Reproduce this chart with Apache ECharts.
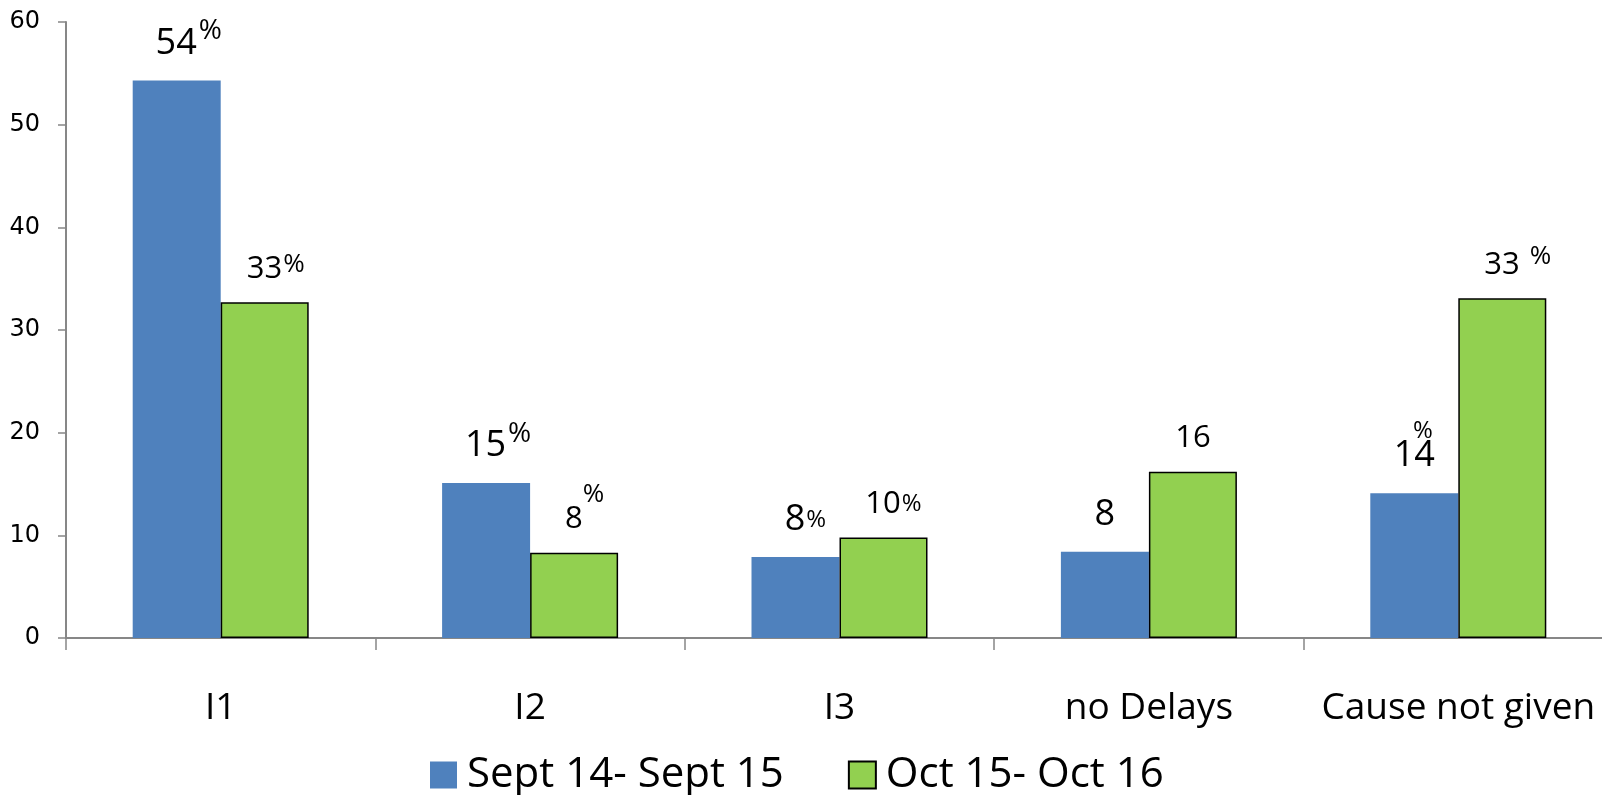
<!DOCTYPE html>
<html>
<head>
<meta charset="utf-8">
<script src="https://cdn.jsdelivr.net/npm/echarts@6/dist/echarts.min.js"></script>
<style>
  html, body { margin: 0; padding: 0; background: #fff; }
  #chart { width: 1602px; height: 795px; }
</style>
</head>
<body>
<div id="chart"></div>
<script>
// ---- data ----
const categories = ['I1', 'I2', 'I3', 'no Delays', 'Cause not given'];
const seriesNames = ['Sept 14- Sept 15', 'Oct 15- Oct 16'];
const septValues = [54.3, 15.1, 7.9, 8.4, 14.1];
const octValues = [32.7, 8.3, 9.8, 16.2, 33.1];
const septLabels = ['54%', '15%', '8%', '8', '14%'];
const octLabels = ['33%', '8%', '10%', '16', '33%'];
const yMin = 0, yMax = 60, yStep = 10;

// ---- label layout (style only) ----
const septKinds = ['sup', 'sup', 'inline', 'plain', 'above'];
const octKinds = ['supLo', 'supHi', 'inline', 'plain', 'supGap'];

const FONT = "'Open Sans', 'Noto Sans', sans-serif";

function richFor(F) {
  const base = { fontFamily: FONT, color: '#000' };
  return {
    n: Object.assign({ fontSize: F, lineHeight: F, verticalAlign: 'bottom' }, base),
    sup: Object.assign({ fontSize: 28, lineHeight: 44, verticalAlign: 'top', padding: [0, 0, 0, 2] }, base),
    padSup: { width: 24, fontSize: 10, lineHeight: 10, verticalAlign: 'bottom' },
    supLo: Object.assign({ fontSize: 26, lineHeight: 33, verticalAlign: 'top', padding: [0, 0, 0, 1] }, base),
    padLo: { width: 22, fontSize: 10, lineHeight: 10, verticalAlign: 'bottom' },
    supHi: Object.assign({ fontSize: 26, lineHeight: 53, verticalAlign: 'top', padding: [0, 0, 0, 0] }, base),
    padHi: { width: 21, fontSize: 10, lineHeight: 10, verticalAlign: 'bottom' },
    supGap: Object.assign({ fontSize: 26, lineHeight: 37, verticalAlign: 'top', padding: [0, 0, 0, 10] }, base),
    padGap: { width: 31, fontSize: 10, lineHeight: 10, verticalAlign: 'bottom' },
    inl: Object.assign({ fontSize: 24, lineHeight: F, verticalAlign: 'middle', padding: [0, 0, 0, 1] }, base),
    padInl: { width: 20, fontSize: 10, lineHeight: 10, verticalAlign: 'bottom' },
    above: Object.assign({ fontSize: 24, lineHeight: 14, verticalAlign: 'middle', padding: [0, 0, 0, 17] }, base)
  };
}

function makeFormatter(labels, kinds) {
  return function (p) {
    const txt = labels[p.dataIndex];
    const num = txt.replace('%', '');
    switch (kinds[p.dataIndex]) {
      case 'sup': return '{padSup| }{n|' + num + '}{sup|%}';
      case 'supLo': return '{padLo| }{n|' + num + '}{supLo|%}';
      case 'supHi': return '{padHi| }{n|' + num + '}{supHi|%}';
      case 'supGap': return '{padGap| }{n|' + num + '}{supGap|%}';
      case 'inline': return '{padInl| }{n|' + num + '}{inl|%}';
      case 'above': return '{above|%}\n{n|' + num + '}';
      default: return '{n|' + num + '}';
    }
  };
}

const chart = echarts.init(document.getElementById('chart'), null, { renderer: 'canvas' });

const axisGray = '#878787';

chart.setOption({
  animation: false,
  backgroundColor: '#ffffff',
  grid: { left: 66, width: 1547, top: 22, bottom: 157, containLabel: false, outerBoundsMode: 'none' },
  legend: {
    data: seriesNames,
    left: 425,
    top: 749,
    itemWidth: 27,
    itemHeight: 27,
    itemGap: 64,
    icon: 'rect',
    textStyle: { fontSize: 42, fontFamily: FONT, color: '#000', padding: [0, 0, 0, 5] }
  },
  xAxis: {
    type: 'category',
    data: categories,
    axisLine: { show: true, lineStyle: { color: axisGray, width: 2 } },
    axisTick: { show: true, alignWithLabel: false, length: 12, interval: 0, lineStyle: { color: axisGray, width: 1.5 } },
    axisLabel: { interval: 0, fontSize: 37, fontFamily: FONT, color: '#000', margin: 52 },
    splitLine: { show: false }
  },
  yAxis: {
    type: 'value',
    min: yMin,
    max: yMax,
    interval: yStep,
    axisLine: { show: true, lineStyle: { color: axisGray, width: 2 } },
    axisTick: { show: true, length: 8, lineStyle: { color: axisGray, width: 1.5 } },
    axisLabel: { fontSize: 24, fontFamily: "'DejaVu Sans', Verdana, sans-serif", color: '#000', margin: 26 },
    splitLine: { show: false }
  },
  series: [
    {
      name: seriesNames[0],
      type: 'bar',
      data: septValues,
      barWidth: 88,
      barGap: '0%',
      itemStyle: { color: '#4F81BD' },
      label: {
        show: true,
        position: 'top',
        distance: 19,
        formatter: makeFormatter(septLabels, septKinds),
        rich: richFor(36)
      }
    },
    {
      name: seriesNames[1],
      type: 'bar',
      data: octValues,
      barWidth: 88,
      barGap: '0%',
      itemStyle: { color: '#92D050', borderColor: '#000000', borderWidth: 1.5 },
      label: {
        show: true,
        position: 'top',
        distance: 18,
        formatter: makeFormatter(octLabels, octKinds),
        rich: richFor(31)
      }
    }
  ]
});
</script>
</body>
</html>
